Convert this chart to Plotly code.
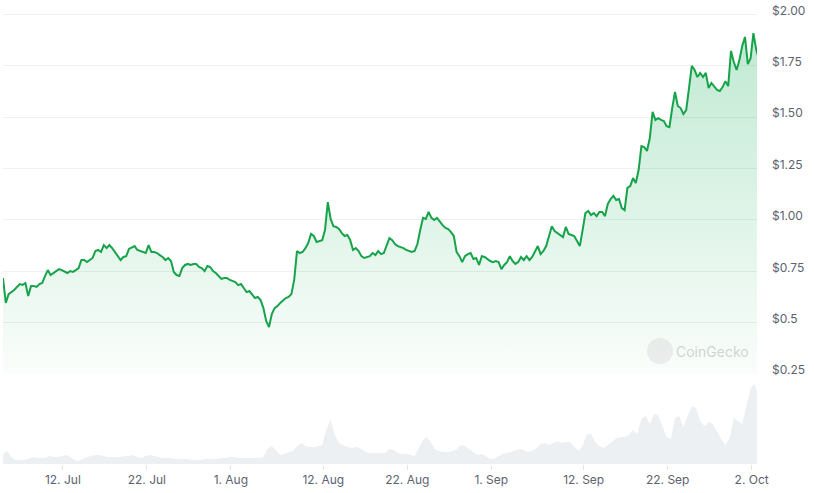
import pandas as pd
import plotly.graph_objects as go

# ---- data ----
price_start = "2024-07-04 21:00"
price_freq = "8h"
price_usd = [0.717,0.596,0.639,0.649,0.659,0.674,0.688,0.684,0.693,0.630,
0.678,0.678,0.674,0.688,0.693,0.727,0.756,0.732,0.742,0.751,
0.761,0.756,0.747,0.742,0.751,0.747,0.756,0.766,0.805,0.805,
0.795,0.805,0.815,0.849,0.854,0.844,0.878,0.863,0.878,0.863,
0.844,0.820,0.805,0.820,0.824,0.859,0.868,0.873,0.854,0.849,
0.844,0.839,0.878,0.844,0.844,0.839,0.829,0.820,0.805,0.815,
0.800,0.747,0.732,0.727,0.766,0.781,0.786,0.781,0.786,0.786,
0.771,0.766,0.751,0.776,0.771,0.751,0.742,0.727,0.713,0.717,
0.717,0.708,0.703,0.698,0.683,0.688,0.669,0.649,0.654,0.635,
0.620,0.625,0.610,0.571,0.508,0.479,0.542,0.571,0.581,0.596,
0.610,0.620,0.625,0.639,0.708,0.849,0.839,0.844,0.863,0.888,
0.932,0.922,0.893,0.898,0.902,0.951,1.087,1.005,0.970,0.966,
0.956,0.936,0.922,0.927,0.902,0.854,0.863,0.849,0.824,0.815,
0.820,0.824,0.839,0.829,0.849,0.834,0.839,0.873,0.912,0.902,
0.883,0.873,0.868,0.863,0.854,0.849,0.844,0.849,0.883,0.951,
1.010,1.005,1.039,1.010,1.000,1.010,0.990,0.975,0.961,0.956,
0.941,0.922,0.844,0.824,0.795,0.824,0.834,0.839,0.810,0.815,
0.781,0.824,0.820,0.810,0.800,0.795,0.800,0.795,0.761,0.781,
0.795,0.824,0.800,0.786,0.795,0.820,0.805,0.824,0.805,0.820,
0.849,0.873,0.834,0.849,0.873,0.922,0.970,0.946,0.936,0.927,
0.917,0.966,0.932,0.927,0.922,0.898,0.873,0.951,1.034,1.044,
1.024,1.034,1.019,1.039,1.039,1.019,1.078,1.102,1.117,1.097,
1.102,1.058,1.048,1.156,1.165,1.204,1.180,1.243,1.360,1.355,
1.336,1.399,1.526,1.487,1.496,1.487,1.482,1.457,1.452,1.545,
1.623,1.555,1.545,1.516,1.535,1.642,1.750,1.730,1.696,1.716,
1.696,1.716,1.642,1.667,1.647,1.633,1.628,1.647,1.676,1.652,
1.823,1.769,1.730,1.779,1.847,1.891,1.759,1.788,1.910,1.830,
1.780]

volume_start = "2024-07-04 21:00"
volume_freq = "12h"
volume_musd = [10,13,7,4,4,4,5,7,6,6,
6,8,7,7,8,9,7,4,3,5,
7,8,9,9,8,7,7,7,7,8,
8,9,7,6,8,9,8,7,6,6,
6,5,5,5,5,4,4,4,5,5,
5,5,6,6,7,7,6,6,6,6,
6,6,7,15,18,13,9,10,12,13,
18,21,18,17,17,18,19,35,44,29,
21,19,17,16,17,16,13,11,11,11,
11,11,15,14,11,10,10,9,8,16,
24,27,21,14,13,12,12,13,15,19,
18,15,12,9,10,8,5,5,8,10,
11,12,14,15,14,12,13,16,20,21,
19,21,23,21,22,22,18,13,18,30,
30,22,18,16,19,22,26,27,27,29,
34,30,45,48,40,50,49,38,27,25,
46,48,37,48,58,56,43,38,42,40,
32,25,19,26,46,43,40,58,76,80,
66]

x_tick_dates = ["2024-07-12","2024-07-22","2024-08-01","2024-08-12","2024-08-22",
                "2024-09-01","2024-09-12","2024-09-22","2024-10-02"]
x_tick_labels = ["12. Jul","22. Jul","1. Aug","12. Aug","22. Aug",
                 "1. Sep","12. Sep","22. Sep","2. Oct"]
y_tick_vals = [0.25, 0.5, 0.75, 1.0, 1.25, 1.5, 1.75, 2.0]
y_tick_labels = ["$0.25", "$0.5", "$0.75", "$1.00", "$1.25", "$1.50", "$1.75", "$2.00"]

price_dates = pd.date_range(price_start, periods=len(price_usd), freq=price_freq)
volume_dates = pd.date_range(volume_start, periods=len(volume_musd), freq=volume_freq)
baseline = [0.25] * len(price_usd)

GREEN = "rgb(22,163,74)"
TXT = "#5c6370"
FONT = "Inter"

fig = go.Figure()
fig.add_trace(go.Scatter(
    x=volume_dates, y=volume_musd, yaxis="y2", mode="lines",
    line=dict(width=0, color="rgb(237,240,243)"), fill="tozeroy",
    fillcolor="rgb(237,240,243)", hoverinfo="skip"))
fig.add_trace(go.Scatter(
    x=price_dates, y=baseline, mode="lines", line=dict(width=0),
    hoverinfo="skip"))
fig.add_trace(go.Scatter(
    x=price_dates, y=price_usd, mode="lines",
    line=dict(color=GREEN, width=2), fill="tonexty",
    fillgradient=dict(type="vertical", start=0.25, stop=2.0,
                      colorscale=[[0, "rgba(0,168,72,0.02)"], [1, "rgba(0,168,72,0.26)"]])))

fig.update_layout(
    width=814, height=493, showlegend=False,
    paper_bgcolor="white", plot_bgcolor="white",
    margin=dict(l=3, r=57, t=0, b=29),
    font=dict(family=FONT, size=12, color=TXT),
    xaxis=dict(type="date", range=["2024-07-04 21:00", "2024-10-02 15:15"],
               tickvals=x_tick_dates, ticktext=x_tick_labels,
               showgrid=False, zeroline=False, showline=False,
               ticks="outside", ticklen=5, tickcolor="#e3e5e8",
               tickfont=dict(size=12, color=TXT), automargin=False),
    yaxis=dict(side="right", range=[-0.188, 2.071], domain=[0, 1],
               tickvals=y_tick_vals, ticktext=y_tick_labels,
               showgrid=True, gridcolor="#eef0f2", gridwidth=1,
               zeroline=False, showline=False, ticks="",
               ticklabelstandoff=14, ticklabelshift=-4,
               tickfont=dict(size=12, color=TXT), automargin=False),
    yaxis2=dict(domain=[0, 90/464], range=[0, 90], visible=False,
                showgrid=False, zeroline=False, anchor="x"),
)

# CoinGecko watermark
fig.add_shape(type="circle", xref="paper", yref="paper",
              x0=(647-3)/754, x1=(673-3)/754, y0=(464-364)/464, y1=(464-338)/464,
              fillcolor="rgba(205,205,205,0.35)", line=dict(width=0), layer="above")
fig.add_annotation(x=(712-3)/754, y=(464-351)/464, xref="paper", yref="paper",
                   xanchor="center", yanchor="middle",
                   text="CoinGecko", showarrow=False,
                   font=dict(family=FONT, size=14, color="rgba(175,175,175,0.55)"))

fig.write_html("out.html")
